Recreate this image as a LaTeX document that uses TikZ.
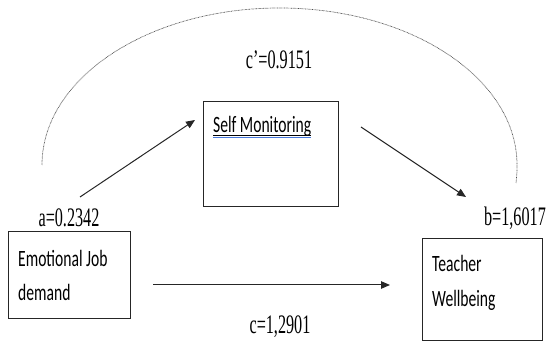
\documentclass[tikz,border=0pt]{standalone}
\usepackage{fontspec}
\usepackage{graphicx}
\setmainfont{Liberation Serif}
\newfontfamily\calib{Carlito}
\usetikzlibrary{arrows.meta}
\newcommand{\tallbox}[1]{\scalebox{1}[1.5]{#1}}
\newcommand{\tallcoef}[1]{\scalebox{0.97}[1.6]{#1}}
\tikzset{
  boxnode/.style={draw=black!85, line width=0.9pt, rectangle, inner sep=0pt},
  boxtext/.style={anchor=west, inner sep=0pt, font=\calib\fontsize{15.6}{18}\selectfont},
  coef/.style={inner sep=0pt, font=\fontsize{16.7}{19}\selectfont},
  link/.style={draw=black!85, line width=1pt, -{Triangle[length=9pt,width=7.5pt]}},
  dotarc/.style={draw=black!70, line width=0.7pt, dash pattern=on 0.7pt off 0.7pt}
}
\begin{document}
\begin{tikzpicture}[x=1pt,y=1pt]
\useasboundingbox (0,0) rectangle (547,345);
% boxes
\node[boxnode, minimum width=122pt, minimum height=87pt] (ejd) at (69,70.5) {};
\node[boxnode, minimum width=135pt, minimum height=105pt] (sm) at (270.5,191.5) {};
\node[boxnode, minimum width=120pt, minimum height=102pt] (tw) at (482,56) {};
% box texts
\node[boxtext] (ejd1) at (18,87) {\tallbox{Emotional Job}};
\node[boxtext] (ejd2) at (18,53) {\tallbox{demand}};
\node[boxtext] (smt) at (213,219) {\tallbox{Self Monitoring}};
\node[boxtext] (tw1) at (432,82) {\tallbox{Teacher}};
\node[boxtext] (tw2) at (432,45) {\tallbox{Wellbeing}};
% underline of Self Monitoring
\draw[black, line width=0.6pt] (smt.south west) ++(0,1.5) coordinate (ul1) -- (ul1 -| smt.south east);
\draw[color={rgb,255:red,70;green,120;blue,220}, line width=1.2pt] (smt.south west) ++(0,-1.5) coordinate (ul2) -- (ul2 -| smt.south east);
% coefficients
\node[coef] (cp) at (279,285) {\tallcoef{c’=0.9151}};
\node[coef] (a) at (69,127) {\tallcoef{a=0.2342}};
\node[coef] (b) at (515,127) {\tallcoef{b=1,6017}};
\node[coef] (c) at (280,18) {\tallcoef{c=1,2901}};
% connectors
\coordinate (as) at (80,148);
\coordinate (ae) at (195,225);
\coordinate (bs) at (361,218);
\coordinate (be) at (466,148);
\coordinate (cs) at (153,60);
\coordinate (ce) at (390,60);
\draw[link] (as) -- (ae);
\draw[link] (bs) -- (be);
\draw[link] (cs) -- (ce);
% dotted arc
\coordinate (arcl) at (42,180);
\coordinate (arct) at (279.5,337);
\coordinate (arcr) at (517,180);
\coordinate (arce) at (516,162);
\draw[dotarc] (arcl) .. controls (42,266.7) and (148.3,337) .. (arct)
  .. controls (410.7,337) and (517,266.7) .. (arcr) .. controls (517,172) .. (arce);
\end{tikzpicture}
\end{document}
